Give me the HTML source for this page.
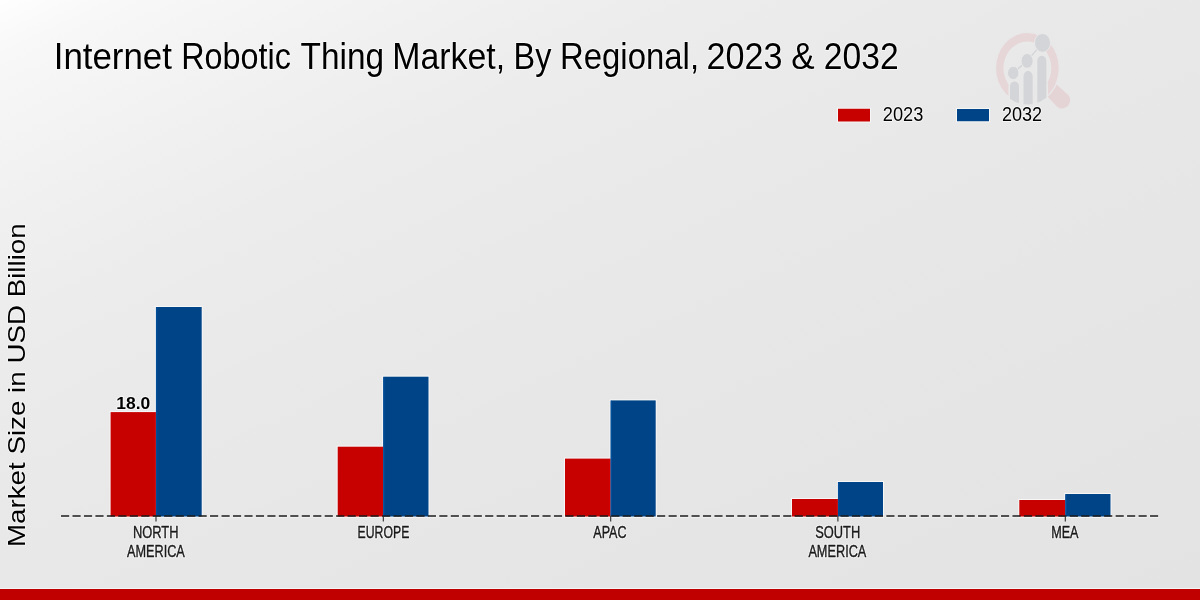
<!DOCTYPE html>
<html><head><meta charset="utf-8">
<style>
html,body{margin:0;padding:0;}
body{width:1200px;height:600px;overflow:hidden;position:relative;
background:linear-gradient(155deg,#fefefe 0%,#f8f8f8 4.8%,#f5f5f5 9.5%,#f0f0f0 19%,#ececec 28.5%,#e9e9e9 42.8%,#e7e7e7 57%,#e5e5e5 76%,#e3e3e3 100%);
font-family:"Liberation Sans",sans-serif;}
svg{position:absolute;left:0;top:0;will-change:transform;}
</style></head><body>
<svg width="1200" height="600" viewBox="0 0 1200 600" font-family="Liberation Sans, sans-serif">
<g fill="none" stroke="#fafafa" stroke-width="2" stroke-linejoin="round" opacity="0.8">
<text x="53.70" y="69" font-size="37" textLength="118.27" lengthAdjust="spacingAndGlyphs">Internet</text>
<text x="181.13" y="69" font-size="37" textLength="109.71" lengthAdjust="spacingAndGlyphs">Robotic</text>
<text x="300.57" y="69" font-size="37" textLength="83.51" lengthAdjust="spacingAndGlyphs">Thing</text>
<text x="392.26" y="69" font-size="37" textLength="112.82" lengthAdjust="spacingAndGlyphs">Market,</text>
<text x="513.62" y="69" font-size="37" textLength="37.79" lengthAdjust="spacingAndGlyphs">By</text>
<text x="559.93" y="69" font-size="37" textLength="139.15" lengthAdjust="spacingAndGlyphs">Regional,</text>
<text x="706.49" y="69" font-size="37" textLength="75.96" lengthAdjust="spacingAndGlyphs">2023</text>
<text x="791.21" y="69" font-size="37" textLength="23.44" lengthAdjust="spacingAndGlyphs">&amp;</text>
<text x="823.81" y="69" font-size="37" textLength="74.84" lengthAdjust="spacingAndGlyphs">2032</text>
</g>
<g fill="#000">
<text x="53.70" y="69" font-size="37" textLength="118.27" lengthAdjust="spacingAndGlyphs">Internet</text>
<text x="181.13" y="69" font-size="37" textLength="109.71" lengthAdjust="spacingAndGlyphs">Robotic</text>
<text x="300.57" y="69" font-size="37" textLength="83.51" lengthAdjust="spacingAndGlyphs">Thing</text>
<text x="392.26" y="69" font-size="37" textLength="112.82" lengthAdjust="spacingAndGlyphs">Market,</text>
<text x="513.62" y="69" font-size="37" textLength="37.79" lengthAdjust="spacingAndGlyphs">By</text>
<text x="559.93" y="69" font-size="37" textLength="139.15" lengthAdjust="spacingAndGlyphs">Regional,</text>
<text x="706.49" y="69" font-size="37" textLength="75.96" lengthAdjust="spacingAndGlyphs">2023</text>
<text x="791.21" y="69" font-size="37" textLength="23.44" lengthAdjust="spacingAndGlyphs">&amp;</text>
<text x="823.81" y="69" font-size="37" textLength="74.84" lengthAdjust="spacingAndGlyphs">2032</text>
</g>
<g>
<defs><clipPath id="lc"><ellipse cx="1027.4" cy="68.1" rx="33" ry="36.4"/></clipPath></defs>
<path d="M1052 80.5L1068.3 94.9C1070.6 97.2 1070.8 102.6 1067.8 105.9C1065.2 108.6 1060.6 109.3 1057.6 107.2L1044 93Z" fill="#e5d4d6"/>
<ellipse cx="1027.4" cy="68.1" rx="32.1" ry="35.9" fill="none" stroke="#e8e8e8" stroke-width="1.5"/>
<path fill-rule="evenodd" fill="#e7d6d8" d="M996.05 68.1a31.35 35.1 0 1 0 62.7 0a31.35 35.1 0 1 0 -62.7 0ZM1003.45 68.1a23.95 26.6 0 1 0 47.9 0a23.95 26.6 0 1 0 -47.9 0Z"/>
<rect x="1008.6" y="84" width="39.4" height="26" fill="#e8e8e8" clip-path="url(#lc)"/>
<g fill="#d4d5d8" stroke="#e9e9e9" stroke-width="1.2" clip-path="url(#lc)">
<path d="M1009.4 86.4a5.1 5.6 0 0 1 10.2 0V110H1009.4Z"/>
<path d="M1022.9 76.2a5.2 5.7 0 0 1 10.4 0V110H1022.9Z"/>
<path d="M1036.7 60.8a5.15 5.7 0 0 1 10.3 0V110H1036.7Z"/>
</g>
<polyline points="1013.25,72.9 1027.1,60.9 1042.5,42.9" fill="none" stroke="#d4d5d8" stroke-width="1.4"/>
<g fill="#d4d5d8" stroke="#e9e9e9" stroke-width="1">
<ellipse cx="1013.25" cy="72.9" rx="5.7" ry="6.7"/>
<ellipse cx="1027.1" cy="60.9" rx="6.1" ry="7.4"/>
<ellipse cx="1042.5" cy="42.9" rx="8" ry="9.4"/>
</g>
</g>
<rect x="837" y="107.75" width="34" height="14.75" fill="#f7f7f7"/>
<rect x="956" y="108" width="34" height="14.25" fill="#f7f7f7"/>
<rect x="838" y="108.75" width="32" height="12.75" fill="#c70000"/>
<rect x="957" y="109" width="32" height="12.25" fill="#004488"/>
<g fill="none" stroke="#fafafa" stroke-width="2" stroke-linejoin="round" opacity="0.8">
<text x="882.83" y="121.25" font-size="19.9" textLength="40.58" lengthAdjust="spacingAndGlyphs">2023</text>
<text x="1001.99" y="121.2" font-size="19.9" textLength="40.17" lengthAdjust="spacingAndGlyphs">2032</text>
</g>
<g fill="#000">
<text x="882.83" y="121.25" font-size="19.9" textLength="40.58" lengthAdjust="spacingAndGlyphs">2023</text>
<text x="1001.99" y="121.2" font-size="19.9" textLength="40.17" lengthAdjust="spacingAndGlyphs">2032</text>
</g>
<g fill="none" stroke="#fafafa" stroke-width="2" stroke-linejoin="round" opacity="0.6">
<text transform="translate(24.9,547.02) rotate(-90)" x="0" y="0" font-size="24.5" textLength="323.70" lengthAdjust="spacingAndGlyphs">Market Size in USD Billion</text>
</g>
<g fill="#000">
<text transform="translate(24.9,547.02) rotate(-90)" x="0" y="0" font-size="24.5" textLength="323.70" lengthAdjust="spacingAndGlyphs">Market Size in USD Billion</text>
</g>
<line x1="60.5" y1="516.4" x2="1159.5" y2="516.4" stroke="#f5f5f5" stroke-width="2.6" stroke-dasharray="9.2 2.263"/>
<g>
<rect x="109.60" y="411.10" width="47.30" height="106.50" fill="#f7f7f7"/>
<rect x="154.90" y="306.00" width="47.80" height="211.60" fill="#f7f7f7"/>
<rect x="336.70" y="445.70" width="47.50" height="71.90" fill="#f7f7f7"/>
<rect x="382.20" y="375.70" width="47.30" height="141.90" fill="#f7f7f7"/>
<rect x="564.00" y="457.60" width="47.60" height="60.00" fill="#f7f7f7"/>
<rect x="609.60" y="399.40" width="47.10" height="118.20" fill="#f7f7f7"/>
<rect x="791.00" y="498.00" width="47.90" height="19.60" fill="#f7f7f7"/>
<rect x="836.90" y="481.00" width="47.10" height="36.60" fill="#f7f7f7"/>
<rect x="1018.30" y="499.00" width="48.00" height="18.60" fill="#f7f7f7"/>
<rect x="1064.30" y="493.00" width="47.20" height="24.60" fill="#f7f7f7"/>
<rect x="110.6" y="412.1" width="45.3" height="104.40" fill="#c70000"/>
<rect x="155.9" y="307.0" width="45.8" height="209.50" fill="#004488"/>
<rect x="337.7" y="446.7" width="45.5" height="69.80" fill="#c70000"/>
<rect x="383.2" y="376.7" width="45.3" height="139.80" fill="#004488"/>
<rect x="565" y="458.6" width="45.6" height="57.90" fill="#c70000"/>
<rect x="610.6" y="400.4" width="45.1" height="116.10" fill="#004488"/>
<rect x="792" y="499.0" width="45.9" height="17.50" fill="#c70000"/>
<rect x="837.9" y="482.0" width="45.1" height="34.50" fill="#004488"/>
<rect x="1019.3" y="500.0" width="46" height="16.50" fill="#c70000"/>
<rect x="1065.3" y="494.0" width="45.2" height="22.50" fill="#004488"/>
<rect x="154.20" y="412.6" width="1.1" height="103.40" fill="#d40000"/>
<rect x="156.10" y="307.5" width="1.2" height="208.50" fill="#004f9c"/>
<rect x="381.50" y="447.2" width="1.1" height="68.80" fill="#d40000"/>
<rect x="383.40" y="377.2" width="1.2" height="138.80" fill="#004f9c"/>
<rect x="608.90" y="459.1" width="1.1" height="56.90" fill="#d40000"/>
<rect x="610.80" y="400.9" width="1.2" height="115.10" fill="#004f9c"/>
<rect x="836.20" y="499.5" width="1.1" height="16.50" fill="#d40000"/>
<rect x="838.10" y="482.5" width="1.2" height="33.50" fill="#004f9c"/>
<rect x="1063.60" y="500.5" width="1.1" height="15.50" fill="#d40000"/>
<rect x="1065.50" y="494.5" width="1.2" height="21.50" fill="#004f9c"/>
</g>
<line x1="61" y1="516" x2="1159" y2="516" stroke="#1a1a1a" stroke-width="1.6" stroke-dasharray="8.2 3.263"/>
<g stroke="#2a2a2a" stroke-width="1.1">
<line x1="156" y1="516" x2="156" y2="521.5"/>
<line x1="383.3" y1="516" x2="383.3" y2="521.5"/>
<line x1="610.7" y1="516" x2="610.7" y2="521.5"/>
<line x1="837.9" y1="516" x2="837.9" y2="521.5"/>
<line x1="1065.3" y1="516" x2="1065.3" y2="521.5"/>
</g>
<g fill="none" stroke="#fafafa" stroke-width="2" stroke-linejoin="round" opacity="0.8">
<text x="116.21" y="408.5" font-size="16.1" font-weight="bold" textLength="34.01" lengthAdjust="spacingAndGlyphs">18.0</text>
</g>
<g fill="#000">
<text x="116.21" y="408.5" font-size="16.1" font-weight="bold" textLength="34.01" lengthAdjust="spacingAndGlyphs">18.0</text>
</g>
<g fill="none" stroke="#fafafa" stroke-width="2.4" stroke-linejoin="round" opacity="0.8">
<text x="132.92" y="538.3" font-size="16.5" textLength="45.55" lengthAdjust="spacingAndGlyphs">NORTH</text>
<text x="127.00" y="557.1" font-size="16.5" textLength="57.84" lengthAdjust="spacingAndGlyphs">AMERICA</text>
<text x="357.57" y="538.2" font-size="16.5" textLength="51.74" lengthAdjust="spacingAndGlyphs">EUROPE</text>
<text x="593.30" y="538.3" font-size="16.5" textLength="33.25" lengthAdjust="spacingAndGlyphs">APAC</text>
<text x="815.17" y="538.1" font-size="16.5" textLength="45.01" lengthAdjust="spacingAndGlyphs">SOUTH</text>
<text x="808.40" y="557.1" font-size="16.5" textLength="57.94" lengthAdjust="spacingAndGlyphs">AMERICA</text>
<text x="1051.14" y="538.3" font-size="16.5" textLength="27.37" lengthAdjust="spacingAndGlyphs">MEA</text>
</g>
<g fill="#1a1a1a" stroke="#1a1a1a" stroke-width="0.4">
<text x="132.92" y="538.3" font-size="16.5" textLength="45.55" lengthAdjust="spacingAndGlyphs">NORTH</text>
<text x="127.00" y="557.1" font-size="16.5" textLength="57.84" lengthAdjust="spacingAndGlyphs">AMERICA</text>
<text x="357.57" y="538.2" font-size="16.5" textLength="51.74" lengthAdjust="spacingAndGlyphs">EUROPE</text>
<text x="593.30" y="538.3" font-size="16.5" textLength="33.25" lengthAdjust="spacingAndGlyphs">APAC</text>
<text x="815.17" y="538.1" font-size="16.5" textLength="45.01" lengthAdjust="spacingAndGlyphs">SOUTH</text>
<text x="808.40" y="557.1" font-size="16.5" textLength="57.94" lengthAdjust="spacingAndGlyphs">AMERICA</text>
<text x="1051.14" y="538.3" font-size="16.5" textLength="27.37" lengthAdjust="spacingAndGlyphs">MEA</text>
</g>
<rect x="0" y="588" width="1200" height="1" fill="#f4f4f4"/>
<rect x="0" y="589" width="1200" height="11" fill="#c00000"/>
</svg>
</body></html>
